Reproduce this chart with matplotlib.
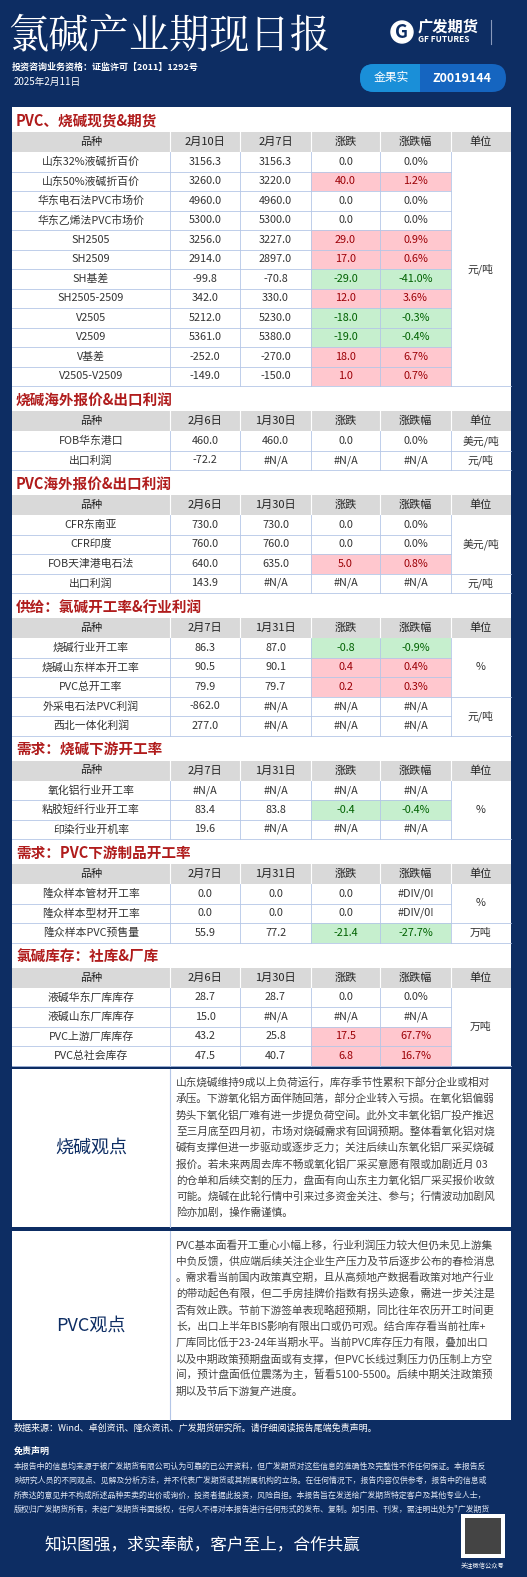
import matplotlib
matplotlib.use('Agg')
import matplotlib.pyplot as plt
from matplotlib.patches import Rectangle, FancyBboxPatch, Circle

plt.rcParams['font.family'] = ['Noto Sans CJK SC', 'DejaVu Sans']

NAVY = '#0d2d63'
GRID = '#b4c6e7'
RED_BG, RED_TX = '#ffc7ce', '#9c0006'
GRN_BG, GRN_TX = '#c6efce', '#006100'
TITLE_RED = '#b01c1c'

# ---- data ----
sec1_title = 'PVC、烧碱现货&期货'
sec1_head = ['品种', '2月10日', '2月7日', '涨跌', '涨跌幅', '单位']
sec1_names = ['山东32%液碱折百价', '山东50%液碱折百价', '华东电石法PVC市场价', '华东乙烯法PVC市场价',
              'SH2505', 'SH2509', 'SH基差', 'SH2505-2509', 'V2505', 'V2509', 'V基差', 'V2505-V2509']
sec1_cur = ['3156.3', '3260.0', '4960.0', '5300.0', '3256.0', '2914.0', '-99.8', '342.0', '5212.0', '5361.0', '-252.0', '-149.0']
sec1_prev = ['3156.3', '3220.0', '4960.0', '5300.0', '3227.0', '2897.0', '-70.8', '330.0', '5230.0', '5380.0', '-270.0', '-150.0']
sec1_chg = ['0.0', '40.0', '0.0', '0.0', '29.0', '17.0', '-29.0', '12.0', '-18.0', '-19.0', '18.0', '1.0']
sec1_pct = ['0.0%', '1.2%', '0.0%', '0.0%', '0.9%', '0.6%', '-41.0%', '3.6%', '-0.3%', '-0.4%', '6.7%', '0.7%']
sec1_units = [('元/吨', 0, 12)]

sec2_title = '烧碱海外报价&出口利润'
sec2_head = ['品种', '2月6日', '1月30日', '涨跌', '涨跌幅', '单位']
sec2_names = ['FOB华东港口', '出口利润']
sec2_cur = ['460.0', '-72.2']
sec2_prev = ['460.0', '#N/A']
sec2_chg = ['0.0', '#N/A']
sec2_pct = ['0.0%', '#N/A']
sec2_units = [('美元/吨', 0, 1), ('元/吨', 1, 2)]

sec3_title = 'PVC海外报价&出口利润'
sec3_head = ['品种', '2月6日', '1月30日', '涨跌', '涨跌幅', '单位']
sec3_names = ['CFR东南亚', 'CFR印度', 'FOB天津港电石法', '出口利润']
sec3_cur = ['730.0', '760.0', '640.0', '143.9']
sec3_prev = ['730.0', '760.0', '635.0', '#N/A']
sec3_chg = ['0.0', '0.0', '5.0', '#N/A']
sec3_pct = ['0.0%', '0.0%', '0.8%', '#N/A']
sec3_units = [('美元/吨', 0, 3), ('元/吨', 3, 4)]

sec4_title = '供给：氯碱开工率&行业利润'
sec4_head = ['品种', '2月7日', '1月31日', '涨跌', '涨跌幅', '单位']
sec4_names = ['烧碱行业开工率', '烧碱山东样本开工率', 'PVC总开工率', '外采电石法PVC利润', '西北一体化利润']
sec4_cur = ['86.3', '90.5', '79.9', '-862.0', '277.0']
sec4_prev = ['87.0', '90.1', '79.7', '#N/A', '#N/A']
sec4_chg = ['-0.8', '0.4', '0.2', '#N/A', '#N/A']
sec4_pct = ['-0.9%', '0.4%', '0.3%', '#N/A', '#N/A']
sec4_units = [('%', 0, 3), ('元/吨', 3, 5)]

sec5_title = '需求：烧碱下游开工率'
sec5_head = ['品种', '2月7日', '1月31日', '涨跌', '涨跌幅', '单位']
sec5_names = ['氧化铝行业开工率', '粘胶短纤行业开工率', '印染行业开机率']
sec5_cur = ['#N/A', '83.4', '19.6']
sec5_prev = ['#N/A', '83.8', '#N/A']
sec5_chg = ['#N/A', '-0.4', '#N/A']
sec5_pct = ['#N/A', '-0.4%', '#N/A']
sec5_units = [('%', 0, 3)]

sec6_title = '需求：PVC下游制品开工率'
sec6_head = ['品种', '2月7日', '1月31日', '涨跌', '涨跌幅', '单位']
sec6_names = ['隆众样本管材开工率', '隆众样本型材开工率', '隆众样本PVC预售量']
sec6_cur = ['0.0', '0.0', '55.9']
sec6_prev = ['0.0', '0.0', '77.2']
sec6_chg = ['0.0', '0.0', '-21.4']
sec6_pct = ['#DIV/0!', '#DIV/0!', '-27.7%']
sec6_units = [('%', 0, 2), ('万吨', 2, 3)]

sec7_title = '氯碱库存：社库&厂库'
sec7_head = ['品种', '2月6日', '1月30日', '涨跌', '涨跌幅', '单位']
sec7_names = ['液碱华东厂库库存', '液碱山东厂库库存', 'PVC上游厂库库存', 'PVC总社会库存']
sec7_cur = ['28.7', '15.0', '43.2', '47.5']
sec7_prev = ['28.7', '#N/A', '25.8', '40.7']
sec7_chg = ['0.0', '#N/A', '17.5', '6.8']
sec7_pct = ['0.0%', '#N/A', '67.7%', '16.7%']
sec7_units = [('万吨', 0, 4)]

view1 = ['山东烧碱维持9成以上负荷运行，库存季节性累积下部分企业或相对',
         '承压。下游氧化铝方面伴随回落，部分企业转入亏损。在氧化铝偏弱',
         '势头下氧化铝厂难有进一步提负荷空间。此外文丰氧化铝厂投产推迟',
         '至三月底至四月初，市场对烧碱需求有回调预期。整体看氧化铝对烧',
         '碱有支撑但进一步驱动或逐步乏力；关注后续山东氧化铝厂采买烧碱',
         '报价。若未来两周去库不畅或氧化铝厂采买意愿有限或加剧近月 03',
         '的仓单和后续交割的压力，盘面有向山东主力氧化铝厂采买报价收敛',
         '可能。烧碱在此轮行情中引来过多资金关注、参与；行情波动加剧风',
         '险亦加剧，操作需谨慎。']
view2 = ['PVC基本面看开工重心小幅上移，行业利润压力较大但仍未见上游集',
         '中负反馈，供应端后续关注企业生产压力及节后逐步公布的春检消息',
         '。需求看当前国内政策真空期，且从高频地产数据看政策对地产行业',
         '的带动起色有限，但二手房挂牌价指数有拐头迹象，需进一步关注是',
         '否有效止跌。节前下游签单表现略超预期，同比往年农历开工时间更',
         '长，出口上半年BIS影响有限出口或仍可观。结合库存看当前社库+',
         '厂库同比低于23-24年当期水平。当前PVC库存压力有限，叠加出口',
         '以及中期政策预期盘面或有支撑，但PVC长线过剩压力仍压制上方空',
         '间，预计盘面低位震荡为主，暂看5100-5500。后续中期关注政策预',
         '期以及节后下游复产进度。']
disclaimer = ['本报告中的信息均来源于被广发期货有限公司认为可靠的已公开资料，但广发期货对这些信息的准确性及完整性不作任何保证。本报告反',
              '映研究人员的不同观点、见解及分析方法，并不代表广发期货或其附属机构的立场。在任何情况下，报告内容仅供参考，报告中的信息或',
              '所表达的意见并不构成所述品种买卖的出价或询价，投资者据此投资，风险自担。本报告旨在发送给广发期货特定客户及其他专业人士，',
              '版权归广发期货所有，未经广发期货书面授权，任何人不得对本报告进行任何形式的发布、复制。如引用、刊发，需注明出处为"广发期货']

sections = [
    (sec1_title, sec1_head, sec1_names, sec1_cur, sec1_prev, sec1_chg, sec1_pct, sec1_units),
    (sec2_title, sec2_head, sec2_names, sec2_cur, sec2_prev, sec2_chg, sec2_pct, sec2_units),
    (sec3_title, sec3_head, sec3_names, sec3_cur, sec3_prev, sec3_chg, sec3_pct, sec3_units),
    (sec4_title, sec4_head, sec4_names, sec4_cur, sec4_prev, sec4_chg, sec4_pct, sec4_units),
    (sec5_title, sec5_head, sec5_names, sec5_cur, sec5_prev, sec5_chg, sec5_pct, sec5_units),
    (sec6_title, sec6_head, sec6_names, sec6_cur, sec6_prev, sec6_chg, sec6_pct, sec6_units),
    (sec7_title, sec7_head, sec7_names, sec7_cur, sec7_prev, sec7_chg, sec7_pct, sec7_units),
]

W, H = 527, 1577
fig = plt.figure(figsize=(W / 100, H / 100), dpi=100)
fig.patch.set_facecolor(NAVY)
ax = fig.add_axes([0, 0, 1, 1])
ax.set_xlim(0, W)
ax.set_ylim(H, 0)
ax.axis('off')

# ---- header ----
ax.text(8, 37, '氯碱产业期现日报', color='white', fontsize=29, va='center', ha='left',
        family=['Noto Serif CJK SC', 'Noto Sans CJK SC'])
ax.text(12, 67, '投资咨询业务资格：证监许可【2011】1292号', color='white', fontsize=6.5, va='center', fontweight='bold')
ax.text(14, 82, '2025年2月11日', color='white', fontsize=7, va='center')
ax.add_patch(Circle((402, 32), 11, color='white'))
ax.text(402, 32, 'G', color=NAVY, fontsize=13, fontweight='bold', ha='center', va='center', fontstyle='italic')
ax.text(418, 26, '广发期货', color='white', fontsize=11, fontweight='bold', va='center')
ax.text(418, 40, 'GF FUTURES', color='white', fontsize=6, fontweight='bold', va='center')
ax.plot([491, 491], [20, 44], color='#8899bb', lw=0.8)
ax.add_patch(FancyBboxPatch((360, 64), 146, 28, boxstyle='round,pad=0,rounding_size=14', fc='#1565c0', ec='none'))
ax.add_patch(FancyBboxPatch((360, 64), 60, 28, boxstyle='round,pad=0,rounding_size=14', fc='#1a8fd8', ec='none'))
ax.add_patch(Rectangle((405, 64), 15, 28, fc='#1a8fd8', ec='none'))
ax.text(391, 78, '金果实', color='white', fontsize=8.5, ha='center', va='center')
ax.text(462, 79, 'Z0019144', color='white', fontsize=9, ha='center', va='center', fontweight='bold')

# ---- tables ----
L, R = 12, 511
cols = [12, 170, 240, 311, 380, 451, 511]
TITLE_H, HEAD_H, ROW_H = 25, 20, 19.5


def cell_color(s):
    try:
        v = float(s.rstrip('%'))
    except ValueError:
        return None, '#333333'
    if v > 0:
        return RED_BG, RED_TX
    if v < 0:
        return GRN_BG, GRN_TX
    return None, '#333333'


y = 107
for title, head, names, cur, prev, chg, pct, units in sections:
    ax.add_patch(Rectangle((L, y), R - L, TITLE_H, fc='white', ec='none'))
    ax.text(L + 4, y + TITLE_H / 2 + 1, title, color=TITLE_RED, fontsize=10.5, va='center', fontweight='bold')
    y += TITLE_H
    ax.add_patch(Rectangle((L, y), R - L, HEAD_H, fc='#d9d9d9', ec='none'))
    for i, h in enumerate(head):
        ax.text((cols[i] + cols[i + 1]) / 2, y + HEAD_H / 2, h, fontsize=8, ha='center', va='center', color='#222222')
    for c in cols[1:-1]:
        ax.plot([c, c], [y, y + HEAD_H], color='white', lw=0.8)
    y0 = y + HEAD_H
    n = len(names)
    ax.add_patch(Rectangle((L, y0), R - L, n * ROW_H, fc='white', ec='none'))
    for r in range(n):
        ry = y0 + r * ROW_H
        vals = [names[r], cur[r], prev[r], chg[r], pct[r]]
        for i, v in enumerate(vals):
            bg, tx = (None, '#333333')
            if i >= 3:
                bg, tx = cell_color(v)
            if bg:
                ax.add_patch(Rectangle((cols[i], ry), cols[i + 1] - cols[i], ROW_H, fc=bg, ec='none'))
            ax.text((cols[i] + cols[i + 1]) / 2, ry + ROW_H / 2, v, fontsize=7.8, ha='center', va='center', color=tx)
        ax.plot([L, cols[5]], [ry + ROW_H, ry + ROW_H], color=GRID, lw=0.6)
    for c in cols[1:-1]:
        ax.plot([c, c], [y0, y0 + n * ROW_H], color=GRID, lw=0.6)
    for u, a, b in units:
        ax.text((cols[5] + cols[6]) / 2, y0 + (a + b) / 2 * ROW_H, u, fontsize=7.8, ha='center', va='center', color='#333333')
        ax.plot([cols[5], R], [y0 + b * ROW_H, y0 + b * ROW_H], color=GRID, lw=0.6)
    y = y0 + n * ROW_H

# ---- views ----
def view_box(top, bottom, label, lines):
    ax.add_patch(Rectangle((L, top), R - L, bottom - top, fc='white', ec='none'))
    ax.plot([cols[1], cols[1]], [top, bottom], color=GRID, lw=0.8)
    ax.text((L + cols[1]) / 2, (top + bottom) / 2, label, fontsize=13, ha='center', va='center', color=NAVY)
    for i, s in enumerate(lines):
        ax.text(cols[1] + 6, top + 14 + i * 16.3, s, fontsize=7.7, ha='left', va='center', color='#444444')

view_box(y + 3, 1227, '烧碱观点', view1)
view_box(1231, 1420, 'PVC观点', view2)

# ---- footer ----
ax.text(14, 1428, '数据来源：Wind、卓创资讯、隆众资讯、广发期货研究所。请仔细阅读报告尾端免责声明。', color='white', fontsize=6.5, va='center')
ax.text(14, 1451, '免责声明', color='white', fontsize=6.5, va='center', fontweight='bold')
for i, s in enumerate(disclaimer):
    ax.text(14, 1466 + i * 14.5, s, color='#dfe6f3', fontsize=5.7, va='center')
ax.text(44, 1546, '知识图强，求实奉献，客户至上，合作共赢', color='white', fontsize=12, va='center')
ax.add_patch(Rectangle((461, 1514), 44, 44, fc='white', ec='none'))
ax.add_patch(Rectangle((465, 1518), 36, 36, fc='#444444', ec='none', hatch='xx'))
ax.text(483, 1566, '关注微信公众号', color='white', fontsize=4.5, ha='center', va='center')

fig.savefig('out.png', dpi=100, facecolor=NAVY)
